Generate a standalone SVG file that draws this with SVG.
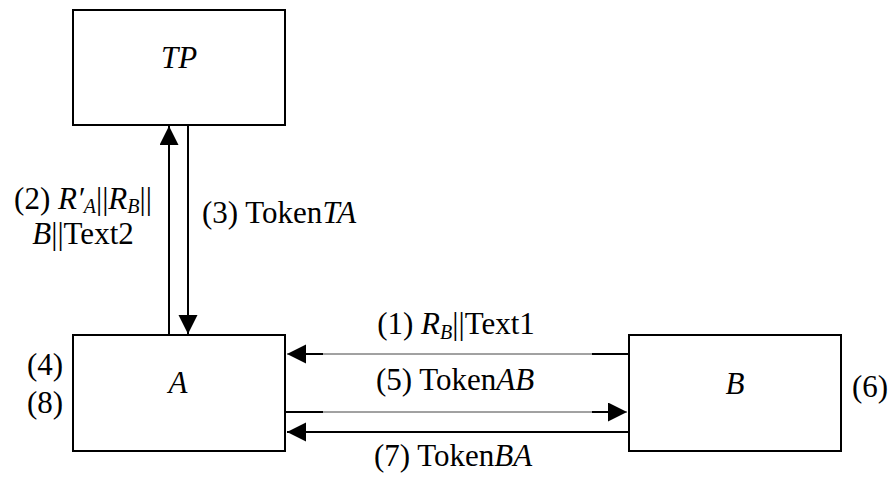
<svg xmlns="http://www.w3.org/2000/svg" width="888" height="478" viewBox="0 0 888 478">
<style>
  .box { fill: #fff; stroke: #000; stroke-width: 2; }
  text { font-family: 'Liberation Serif', 'DejaVu Serif', serif; font-size: 31px; fill: #000; }
  .i { font-style: italic; }
  .sub { font-size: 20px; font-style: italic; }
  .ln { fill: none; stroke: #000; stroke-width: 2; }
  .thin { fill: none; stroke: #444; stroke-width: 1; }
</style>
<defs>
  <marker id="arr" markerUnits="userSpaceOnUse" markerWidth="20" markerHeight="20" refX="19" refY="9.5" orient="auto">
    <path d="M0,0 L19,9.5 L0,19 Z" fill="#000"/>
  </marker>
</defs>
<rect width="888" height="478" fill="#fff"/>

<g id="connectors">
  <path id="c2" class="ln" d="M169,335 V126" marker-end="url(#arr)"/>
  <path id="c3" class="ln" d="M188,125 V334" marker-end="url(#arr)"/>
  <g id="c1">
    <path class="thin" d="M629,354 H287" marker-end="url(#arr)"/>
    <path class="ln" d="M629,354 H592 M323,354 H300"/>
  </g>
  <g id="c5">
    <path class="thin" d="M285,412 H627" marker-end="url(#arr)"/>
    <path class="ln" d="M285,412 H323 M592,412 H612"/>
  </g>
  <path id="c7" class="ln" d="M629,432 H287" marker-end="url(#arr)"/>
</g>

<g id="TP">
  <rect class="box" x="73" y="10" width="212" height="115"/>
  <text class="i" x="179" y="68" text-anchor="middle">TP</text>
</g>
<g id="A">
  <rect class="box" x="73" y="335" width="212" height="116"/>
  <text class="i" x="178" y="393" text-anchor="middle">A</text>
</g>
<g id="B">
  <rect class="box" x="629" y="335" width="212" height="116"/>
  <text class="i" x="735" y="394" text-anchor="middle">B</text>
</g>

<g id="labels">
  <text x="83" y="209" text-anchor="middle">(2) <tspan class="i">R′</tspan><tspan class="sub" dy="4">A</tspan><tspan dy="-4">||</tspan><tspan class="i">R</tspan><tspan class="sub" dy="4">B</tspan><tspan dy="-4">||</tspan></text>
  <text x="83" y="244" text-anchor="middle"><tspan class="i">B</tspan>||Text2</text>
  <text x="202" y="223">(3) Token<tspan class="i">TA</tspan></text>
  <text x="456" y="334" text-anchor="middle">(1) <tspan class="i">R</tspan><tspan class="sub" dy="5">B</tspan><tspan dy="-5">||Text1</tspan></text>
  <text x="455" y="390" text-anchor="middle">(5) Token<tspan class="i">AB</tspan></text>
  <text x="453" y="466" text-anchor="middle">(7) Token<tspan class="i">BA</tspan></text>
  <text x="27" y="375">(4)</text>
  <text x="27" y="413">(8)</text>
  <text x="852" y="397">(6)</text>
</g>
</svg>
